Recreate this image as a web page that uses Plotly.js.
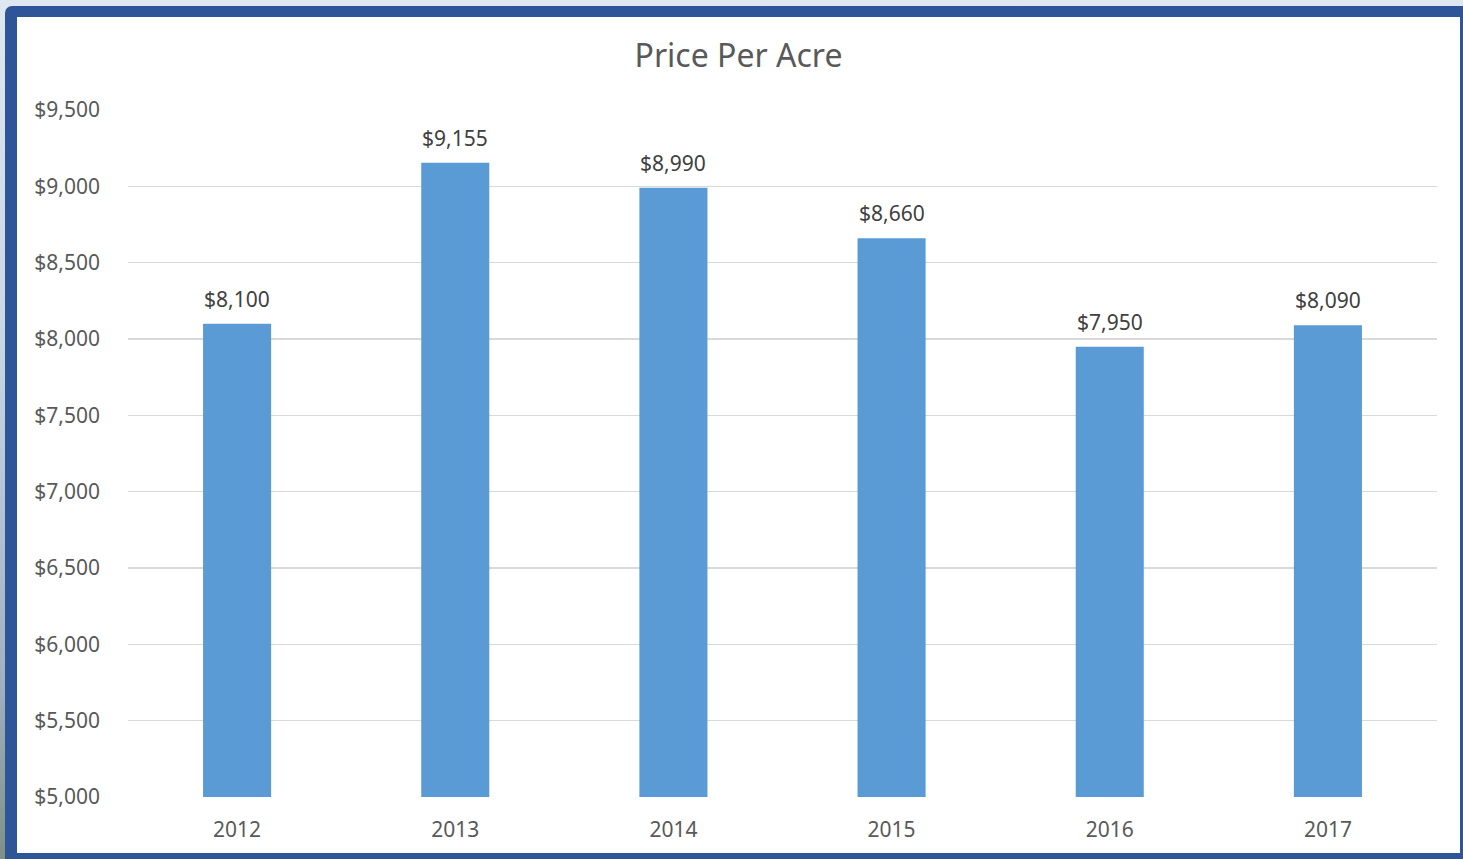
<!DOCTYPE html>
<html>
<head>
<meta charset="utf-8">
<script src="https://cdn.plot.ly/plotly-3.0.1.min.js"></script>
<style>
html,body{margin:0;padding:0;width:1463px;height:859px;overflow:hidden;}
body{background:linear-gradient(180deg,#dfe7f0 0%,#c9d6e4 40%,#9fb0c0 80%,#7f8f86 100%);}
#frame{position:absolute;left:5px;top:6px;width:1458px;height:853px;background:#2E5597;border-top-left-radius:7px;}
#chart{position:absolute;left:17px;top:17px;width:1443px;height:836px;background:#fff;}
</style>
</head>
<body>
<div id="frame"></div>
<div id="chart"></div>
<script>
const years = [2012, 2013, 2014, 2015, 2016, 2017];
const yearLabels = ['2012','2013','2014','2015','2016','2017'];
const prices = [8100, 9155, 8990, 8660, 7950, 8090];
const yTicks = [5000,5500,6000,6500,7000,7500,8000,8500,9000,9500];

const fontFam = 'Noto Sans, Open Sans, sans-serif';

const trace = {
  type: 'bar',
  x: years,
  y: prices,
  width: 0.312,
  marker: {color: '#5B9BD5'},
  hoverinfo: 'none'
};

const annotations = years.map((yr, i) => ({
  x: yr, y: prices[i], xref: 'x', yref: 'y',
  text: '$' + prices[i].toLocaleString('en-US'),
  showarrow: false, yanchor: 'bottom', yshift: 9,
  font: {family: fontFam, size: 21, color: '#404040'}
}));

const layout = {
  width: 1443, height: 836,
  margin: {l: 111, r: 23, t: 93, b: 56},
  paper_bgcolor: '#ffffff',
  plot_bgcolor: '#ffffff',
  showlegend: false,
  title: {text: 'Price Per Acre', x: 0.5, xanchor: 'center', y: 0.953, yanchor: 'middle',
          font: {family: fontFam, size: 32, color: '#595959'}},
  xaxis: {
    type: 'linear',
    range: [years[0] - 0.5, years[years.length - 1] + 0.5],
    tickvals: years, ticktext: yearLabels,
    showgrid: false, zeroline: false, showline: false,
    ticks: '', ticklabelstandoff: 18,
    tickfont: {family: fontFam, size: 21, color: '#595959'}
  },
  yaxis: {
    range: [5000, 9500],
    tickvals: yTicks,
    tickformat: '$,.0f',
    showgrid: true, gridcolor: '#d9d9d9', gridwidth: 1.5,
    zeroline: false, showline: false, ticks: '',
    ticklabelstandoff: 27,
    tickfont: {family: fontFam, size: 21, color: '#595959'}
  },
  annotations: annotations
};

Plotly.newPlot('chart', [trace], layout, {displayModeBar: false, staticPlot: true});
</script>
</body>
</html>
